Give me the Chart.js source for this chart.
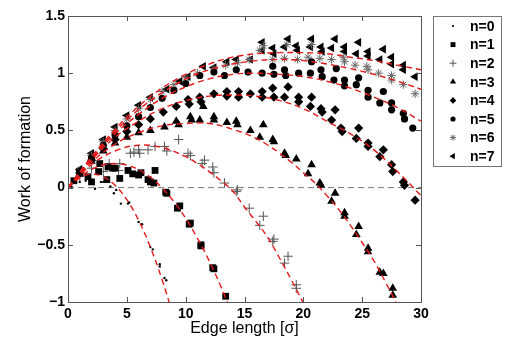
<!DOCTYPE html>
<html lang="en">
<head>
  <meta charset="UTF-8">
  <title>Work of formation vs edge length</title>
  <script src="https://cdn.jsdelivr.net/npm/chart.js"></script>
  <style>
    body { margin: 0; background: #fff; }
    canvas { display: block; }
  </style>
</head>
<body>
<canvas id="grafico" width="507" height="338"></canvas>

<script>
  // measured points, one pair of arrays per n
  const x0 = [0.3, 1, 1.5, 2.3, 2.8, 3, 3.6, 3.9, 4.1, 4.5, 5.1, 5.2, 6.0, 6.3, 7.0, 7.2, 7.8, 7.8, 8.2, 8.35];
  const y0 = [0.01, 0.05, 0.06, -0.01, 0.05, 0.05, 0.01, -0.05, -0.02, -0.14, -0.14, -0.13, -0.30, -0.32, -0.52, -0.54, -0.67, -0.69, -0.79, -0.81];

  const x1 = [0.5, 1.0, 1.7, 2.0, 2.6, 2.7, 3.3, 3.4, 3.8, 4.0, 4.4, 5.1, 5.5, 6.0, 6.2, 6.8, 7.0, 7.3, 7.4, 8.3, 8.4, 9.3, 9.5, 10.3, 10.4, 11.3, 11.3, 12.3, 12.4, 13.4];
  const y1 = [0.06, 0.125, 0.095, 0.05, 0.14, 0.21, 0.07, 0.18, 0.17, 0.17, 0.08, 0.15, 0.12, 0.11, 0.13, 0.07, 0.05, 0.04, 0.15, -0.04, -0.05, -0.18, -0.16, -0.32, -0.31, -0.51, -0.5, -0.70, -0.71, -0.95];

  const x2 = [1, 2, 3, 3.5, 4.3, 4.4, 5.3, 5.6, 6.0, 6.1, 6.8, 7.4, 8.2, 8.4, 9.4, 10.2, 10.4, 11.4, 11.6, 12.3, 12.4, 13.3, 14.3, 14.4, 15.4, 16.3, 16.6, 17.4, 17.5, 18.4, 18.7, 19.4, 19.4];
  const y2 = [0.1, 0.17, 0.14, 0.21, 0.15, 0.21, 0.30, 0.31, 0.33, 0.30, 0.33, 0.36, 0.36, 0.32, 0.42, 0.30, 0.28, 0.21, 0.24, 0.18, 0.13, 0.04, -0.035, -0.02, -0.18, -0.33, -0.25, -0.47, -0.45, -0.66, -0.60, -0.85, -0.88];

  const x3 = [1, 2, 3, 4, 5, 6, 7, 8.2, 9.2, 9.4, 10.4, 10.5, 11.2, 11.5, 12.4, 12.4, 13.5, 14.3, 14.4, 15.5, 16.3, 16.6, 17.4, 17.5, 18.4, 18.5, 19.4, 20.4, 20.7, 21.4, 21.5, 22.4, 22.7, 23.5, 23.5, 24.5, 24.7, 25.5, 25.5, 26.5, 26.8, 27.6, 27.6];
  const y3 = [0.12, 0.23, 0.32, 0.39, 0.44, 0.48, 0.5, 0.53, 0.58, 0.55, 0.62, 0.59, 0.59, 0.71, 0.62, 0.59, 0.57, 0.58, 0.55, 0.50, 0.44, 0.55, 0.42, 0.40, 0.30, 0.28, 0.25, 0.12, 0.2, 0.04, 0.02, -0.12, -0.05, -0.22, -0.25, -0.41, -0.34, -0.53, -0.56, -0.74, -0.75, -0.88, -0.94];

  const x4 = [1, 2, 3, 4, 5, 6, 7, 8.1, 9.2, 10.2, 10.3, 11.2, 11.3, 12.4, 13.5, 13.5, 14.5, 14.5, 15.5, 16.5, 16.5, 17.4, 17.5, 18.4, 18.7, 19.6, 19.6, 20.6, 20.7, 21.5, 21.6, 22.4, 22.7, 23.2, 23.3, 24.5, 24.7, 25.5, 25.5, 26.5, 26.8, 27.5, 27.6, 28.5, 28.6, 29.5];
  const y4 = [0.13, 0.24, 0.34, 0.42, 0.49, 0.55, 0.6, 0.66, 0.71, 0.77, 0.73, 0.79, 0.75, 0.82, 0.84, 0.8, 0.84, 0.79, 0.82, 0.84, 0.79, 0.87, 0.79, 0.79, 0.88, 0.79, 0.75, 0.71, 0.79, 0.69, 0.66, 0.59, 0.68, 0.52, 0.49, 0.43, 0.52, 0.39, 0.36, 0.27, 0.33, 0.2, 0.14, 0.05, 0.02, -0.11];

  const x5 = [1, 2, 3, 4, 5, 6, 7, 8, 9, 10, 11.2, 12.4, 13.3, 14.3, 15.3, 16.5, 17.4, 17.5, 18.4, 18.5, 19.6, 20.6, 20.7, 21.5, 21.6, 22.6, 22.8, 23.5, 23.5, 24.5, 24.7, 25.5, 25.5, 26.5, 26.8, 27.5, 27.5, 28.5, 28.6, 29.3];
  const y5 = [0.14, 0.26, 0.37, 0.46, 0.54, 0.62, 0.7, 0.78, 0.85, 0.91, 0.98, 1.01, 0.98, 1.03, 1.01, 1.0, 1.06, 0.99, 1.03, 0.98, 1.0, 1.0, 1.1, 1.03, 0.97, 0.94, 1.04, 0.94, 0.89, 0.9, 0.96, 0.85, 0.79, 0.74, 0.84, 0.74, 0.68, 0.65, 0.6, 0.52];

  const x6 = [1, 2, 3, 4, 5, 6, 7, 8, 9, 10, 11, 12.4, 13.4, 14.4, 15.4, 16.3, 16.6, 17.4, 18.4, 18.6, 19.5, 20.4, 20.7, 21.4, 22.4, 23.4, 23.5, 24.4, 25.4, 25.5, 26.4, 27.5, 27.5, 28.5, 29.5];
  const y6 = [0.15, 0.28, 0.4, 0.5, 0.6, 0.69, 0.77, 0.84, 0.9, 0.96, 1.0, 1.04, 1.07, 1.09, 1.12, 1.2, 1.24, 1.12, 1.13, 1.25, 1.12, 1.14, 1.25, 1.13, 1.12, 1.14, 1.1, 1.07, 1.06, 1.03, 1.0, 0.98, 0.94, 0.9, 0.82];

  const x7 = [1, 2, 3, 4, 5, 6, 7, 8.4, 9.5, 10.2, 11.5, 12.4, 13.5, 14.3, 15.5, 16.5, 16.5, 17.4, 17.5, 18.4, 18.7, 19.4, 19.5, 20.6, 20.7, 21.5, 21.6, 22.4, 22.7, 23.5, 23.5, 24.5, 24.7, 25.5, 25.5, 26.5, 26.8, 27.5, 27.5, 28.5, 28.5, 29.5];
  const y7 = [0.16, 0.3, 0.42, 0.53, 0.63, 0.72, 0.79, 0.86, 0.93, 0.97, 1.06, 1.05, 1.1, 1.12, 1.12, 1.27, 1.2, 1.22, 1.17, 1.23, 1.3, 1.24, 1.2, 1.23, 1.3, 1.23, 1.19, 1.22, 1.3, 1.23, 1.19, 1.17, 1.27, 1.19, 1.15, 1.12, 1.21, 1.14, 1.08, 1.03, 1.07, 0.97];

  // red dashed fits
  const fitX0 = [0, 1, 2, 3, 4, 5, 6, 7, 8, 9];
  const fitY0 = [0, 0.085, 0.117, 0.095, 0.02, -0.106, -0.286, -0.52, -0.806, -1.14];
  const fitX1 = [0, 1, 2, 3, 4, 5, 6, 7, 8, 9, 10, 11, 12, 13, 14];
  const fitY1 = [0, 0.092, 0.158, 0.198, 0.21, 0.197, 0.157, 0.09, -0.003, -0.123, -0.269, -0.442, -0.641, -0.867, -1.12];
  const fitX2 = [0, 2, 4, 6, 8, 10, 11, 12, 13, 14, 15, 16, 17, 18, 19, 20, 21];
  const fitY2 = [0, 0.2, 0.32, 0.37, 0.35, 0.27, 0.21, 0.14, 0.06, -0.03, -0.17, -0.30, -0.44, -0.62, -0.81, -1.01, -1.22];
  const fitX3 = [0, 2, 4, 6, 8, 10, 12, 14, 16, 17, 18, 19, 20, 21, 22, 23, 24, 25, 26, 27, 28, 29];
  const fitY3 = [0, 0.22, 0.38, 0.48, 0.54, 0.56, 0.56, 0.51, 0.43, 0.37, 0.3, 0.22, 0.13, 0.04, -0.07, -0.19, -0.33, -0.48, -0.64, -0.83, -1.03, -1.25];
  const fitX = [0, 2, 4, 6, 8, 10, 12, 14, 16, 18, 20, 22, 24, 26, 28, 30];
  const fitY4 = [0, 0.24, 0.44, 0.58, 0.69, 0.76, 0.8, 0.81, 0.8, 0.76, 0.69, 0.58, 0.47, 0.33, 0.14, -0.07];
  const fitY5 = [0, 0.25, 0.47, 0.64, 0.78, 0.88, 0.95, 0.99, 1.0, 0.99, 0.97, 0.93, 0.87, 0.79, 0.70, 0.58];
  const fitY6 = [0, 0.26, 0.49, 0.68, 0.83, 0.95, 1.03, 1.08, 1.11, 1.12, 1.11, 1.08, 1.04, 0.99, 0.93, 0.86];
  const fitY7 = [0, 0.27, 0.51, 0.71, 0.87, 0.99, 1.08, 1.14, 1.17, 1.18, 1.18, 1.17, 1.14, 1.11, 1.07, 1.03];

  const zeroX = [0, 30];
  const zeroY = [0, 0];

  const labels = ['n=0', 'n=1', 'n=2', 'n=3', 'n=4', 'n=5', 'n=6', 'n=7'];
  const xTicks = [0, 5, 10, 15, 20, 25, 30];
  const yTicks = [-1, -0.5, 0, 0.5, 1, 1.5];

  const pts = (xs, ys) => xs.map((v, i) => ({x: v, y: ys[i]}));

  const marks = [
    {xs: x0, ys: y0, style: 'circle', r: 1.2, col: '#000', bw: 0},
    {xs: x1, ys: y1, style: 'rect', r: 4.8, col: '#000', bw: 0},
    {xs: x2, ys: y2, style: 'cross', r: 4.8, col: '#555', bw: 1},
    {xs: x3, ys: y3, style: 'triangle', r: 5, col: '#000', bw: 0},
    {xs: x4, ys: y4, style: 'rectRot', r: 4.6, col: '#000', bw: 0},
    {xs: x5, ys: y5, style: 'circle', r: 3.6, col: '#000', bw: 0},
    {xs: x6, ys: y6, style: 'star', r: 4.2, col: '#666', bw: 1},
    {xs: x7, ys: y7, style: 'triangle', r: 5, col: '#000', bw: 0, rot: -90}
  ];

  const fits = [
    [fitX0, fitY0], [fitX1, fitY1], [fitX2, fitY2], [fitX3, fitY3],
    [fitX, fitY4], [fitX, fitY5], [fitX, fitY6], [fitX, fitY7]
  ];

  const datasets = [];
  fits.forEach(f => {
    datasets.push({
      type: 'line', data: pts(f[0], f[1]), order: 0,
      borderColor: '#e41a1a', borderWidth: 1.4, borderDash: [6, 4],
      pointRadius: 0, tension: 0.4, fill: false
    });
  });
  marks.forEach((m, i) => {
    datasets.push({
      type: 'scatter', label: labels[i], data: pts(m.xs, m.ys), order: 1,
      pointStyle: m.style, pointRadius: m.r, rotation: m.rot || 0,
      backgroundColor: m.col, borderColor: m.col, borderWidth: m.bw
    });
  });
  datasets.push({
    type: 'line', data: pts(zeroX, zeroY), order: 2,
    borderColor: '#777', borderWidth: 1, borderDash: [6, 4], pointRadius: 0
  });

  // box round the plot, inward ticks, and the legend on the right
  const frame = {
    id: 'frame',
    afterDraw(chart) {
      const ctx = chart.ctx;
      const a = chart.chartArea;
      const sx = chart.scales.x, sy = chart.scales.y;
      ctx.save();
      ctx.strokeStyle = '#555';
      ctx.lineWidth = 1;
      ctx.strokeRect(a.left + 0.5, a.top + 0.5, a.right - a.left, a.bottom - a.top);
      ctx.beginPath();
      xTicks.forEach(v => {
        const p = Math.round(sx.getPixelForValue(v)) + 0.5;
        ctx.moveTo(p, a.bottom); ctx.lineTo(p, a.bottom - 5);
        ctx.moveTo(p, a.top); ctx.lineTo(p, a.top + 5);
      });
      yTicks.forEach(v => {
        const p = Math.round(sy.getPixelForValue(v)) + 0.5;
        ctx.moveTo(a.left, p); ctx.lineTo(a.left + 5, p);
        ctx.moveTo(a.right, p); ctx.lineTo(a.right - 5, p);
      });
      ctx.stroke();

      // legend
      const lx = a.right + 12, ly = a.top, lw = 68, lh = 150;
      ctx.strokeStyle = '#777';
      ctx.strokeRect(lx + 0.5, ly + 0.5, lw, lh);
      ctx.font = 'bold 14px "Liberation Sans"';
      ctx.textBaseline = 'middle';
      ctx.textAlign = 'left';
      marks.forEach((m, i) => {
        const yy = ly + 10 + i * 18.6;
        ctx.fillStyle = m.col;
        ctx.strokeStyle = m.col;
        ctx.lineWidth = 1;
        const opts = {pointStyle: m.style, radius: m.r * 0.72, rotation: m.rot || 0, borderWidth: m.bw};
        if (m.style === 'circle' && m.r < 2) opts.radius = 1.1;
        Chart.helpers.drawPoint(ctx, opts, lx + 20, yy);
        ctx.fillStyle = '#000';
        ctx.fillText(labels[i], lx + 37, yy + 1);
      });
      ctx.restore();
    }
  };

  Chart.defaults.font.family = '"Liberation Sans", Arial, sans-serif';
  Chart.defaults.color = '#000';

  new Chart(document.getElementById('grafico'), {
    data: {datasets: datasets},
    options: {
      responsive: false,
      animation: false,
      layout: {padding: {top: 16, right: 86, left: 0, bottom: 0}},
      plugins: {legend: {display: false}, tooltip: {enabled: false}},
      scales: {
        x: {
          type: 'linear', min: 0, max: 30,
          afterBuildTicks: s => { s.ticks = xTicks.map(v => ({value: v})); },
          afterFit: s => { s.height = 36; },
          grid: {display: false, drawTicks: false, tickLength: 0}, border: {display: false},
          ticks: {font: {size: 14, weight: 'bold'}, padding: 4, maxRotation: 0},
          title: {display: true, text: 'Edge length [σ]', font: {size: 16}, padding: {top: 0, bottom: 0}}
        },
        y: {
          type: 'linear', min: -1, max: 1.5,
          afterBuildTicks: s => { s.ticks = yTicks.map(v => ({value: v})); },
          afterFit: s => { s.width = 68; },
          grid: {display: false, drawTicks: false, tickLength: 0}, border: {display: false},
          ticks: {font: {size: 14, weight: 'bold'}, padding: 3,
                  callback: v => String(v).replace('-', '\u2212')},
          title: {display: true, text: 'Work of formation', font: {size: 16}, padding: {top: 16, bottom: 0}}
        }
      }
    },
    plugins: [frame]
  });
</script>
</body>
</html>
